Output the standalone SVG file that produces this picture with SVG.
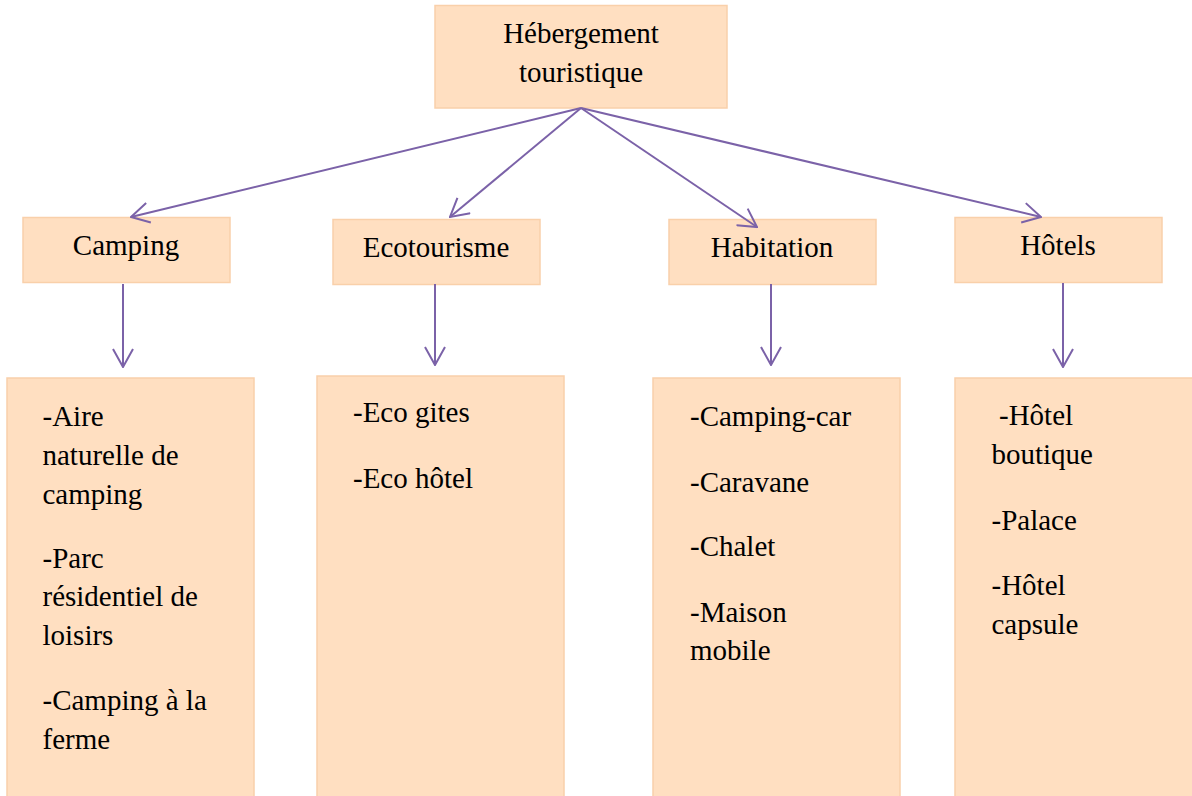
<svg xmlns="http://www.w3.org/2000/svg" width="1192" height="796" viewBox="0 0 1192 796">
  <style>
    .box { fill: #FFDFC1; stroke: #F9D0AA; stroke-width: 1.5; }
    .t { font-family: "Liberation Serif", "Times New Roman", serif; font-size: 29px; fill: #000; }
    .c { text-anchor: middle; }
    .edge { stroke: #7B62A8; stroke-width: 2; fill: none; marker-end: url(#arr); }
  </style>
  <defs>
    <marker id="arr" viewBox="0 0 20 22" refX="19" refY="11" markerWidth="20" markerHeight="22" markerUnits="userSpaceOnUse" orient="auto">
      <path d="M1,1 L19,11 L1,21" fill="none" stroke="#7B62A8" stroke-width="2"/>
    </marker>
  </defs>
  <rect width="1192" height="796" fill="#FFFFFF"/>

  <g id="root">
    <rect class="box" x="435" y="5.5" width="292" height="102.5"/>
    <text class="t c" x="581" y="43">Hébergement</text>
    <text class="t c" x="581" y="82">touristique</text>
  </g>

  <g id="camping">
    <rect class="box" x="23" y="217.5" width="207" height="65"/>
    <text class="t c" x="126" y="255">Camping</text>
  </g>
  <g id="ecotourisme">
    <rect class="box" x="333" y="219.5" width="207" height="65"/>
    <text class="t c" x="436" y="257">Ecotourisme</text>
  </g>
  <g id="habitation">
    <rect class="box" x="669" y="219.5" width="207" height="65"/>
    <text class="t c" x="772" y="257">Habitation</text>
  </g>
  <g id="hotels">
    <rect class="box" x="955" y="217.5" width="207" height="65"/>
    <text class="t c" x="1058" y="255">Hôtels</text>
  </g>

  <g id="camping-list">
    <rect class="box" x="7" y="378" width="247" height="420"/>
    <text class="t" x="42.5" y="426">-Aire</text>
    <text class="t" x="42.5" y="465">naturelle de</text>
    <text class="t" x="42.5" y="503.5">camping</text>
    <text class="t" x="42.5" y="567.5">-Parc</text>
    <text class="t" x="42.5" y="606">résidentiel de</text>
    <text class="t" x="42.5" y="645">loisirs</text>
    <text class="t" x="42.5" y="710">-Camping à la</text>
    <text class="t" x="42.5" y="749">ferme</text>
  </g>
  <g id="eco-list">
    <rect class="box" x="317" y="376" width="247" height="422"/>
    <text class="t" x="353" y="422">-Eco gites</text>
    <text class="t" x="353" y="488">-Eco hôtel</text>
  </g>
  <g id="habitation-list">
    <rect class="box" x="653" y="378" width="247" height="420"/>
    <text class="t" x="690" y="425.5">-Camping-car</text>
    <text class="t" x="690" y="491.5">-Caravane</text>
    <text class="t" x="690" y="555.5">-Chalet</text>
    <text class="t" x="690" y="621.5">-Maison</text>
    <text class="t" x="690" y="660">mobile</text>
  </g>
  <g id="hotels-list">
    <rect class="box" x="955" y="378" width="240" height="420"/>
    <text class="t" x="999" y="425">-Hôtel</text>
    <text class="t" x="991.5" y="464">boutique</text>
    <text class="t" x="991.5" y="530">-Palace</text>
    <text class="t" x="991.5" y="595">-Hôtel</text>
    <text class="t" x="991.5" y="634">capsule</text>
  </g>

  <g id="connectors">
    <line class="edge" x1="581" y1="108" x2="131" y2="217"/>
    <line class="edge" x1="581" y1="108" x2="450" y2="217"/>
    <line class="edge" x1="581" y1="108" x2="757" y2="227"/>
    <line class="edge" x1="581" y1="108" x2="1041" y2="217"/>
    <line class="edge" x1="123" y1="284" x2="123" y2="367"/>
    <line class="edge" x1="435" y1="284" x2="435" y2="365"/>
    <line class="edge" x1="771" y1="284" x2="771" y2="365"/>
    <line class="edge" x1="1063" y1="283" x2="1063" y2="367"/>
  </g>
</svg>
